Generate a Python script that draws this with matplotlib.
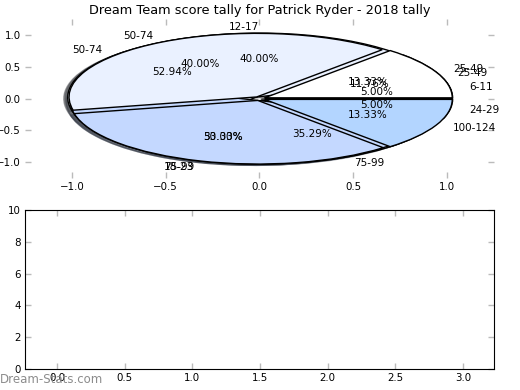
import matplotlib
matplotlib.use("Agg")
import matplotlib.pyplot as plt

TITLE = "Dream Team score tally for Patrick Ryder - 2018 tally"

# three tallies drawn onto the same axes (last one ends up on top)
LABELS_A = ["25-49", "50-74", "75-99"]
COUNTS_A = [2, 9, 6]

LABELS_B = ["6-11", "12-17", "18-23", "24-29"]
COUNTS_B = [1, 8, 10, 1]

LABELS_C = ["25-49", "50-74", "75-99", "100-124"]
COUNTS_C = [2, 6, 5, 2]

PIE_COLORS = ["#ffffff", "#eaf1ff", "#c4d8ff", "#b3d5ff"]
TICK_GRAY = "#bbbbbb"


def style_ticks(ax):
    ax.tick_params(direction="in", color=TICK_GRAY, length=4, width=1,
                   top=True, right=True, labelsize=7.4, pad=3)


fig, (ax_pie, ax_bar) = plt.subplots(2, 1, figsize=(5.2, 3.9), dpi=100)
fig.subplots_adjust(left=0.048, right=0.95, bottom=0.054, top=0.951, hspace=0.2)

for labels, counts in [(LABELS_A, COUNTS_A), (LABELS_B, COUNTS_B), (LABELS_C, COUNTS_C)]:
    ax_pie.pie(counts, labels=labels, colors=PIE_COLORS[:len(counts)],
               explode=[0.03] * len(counts), autopct="%1.2f%%",
               shadow={"ox": -0.015, "oy": -0.015},
               frame=True, wedgeprops={"edgecolor": "black", "linewidth": 1},
               textprops={"fontsize": 7.5})

ax_pie.set_aspect("auto")
ax_pie.set_xlim(-1.25, 1.25)
ax_pie.set_ylim(-1.25, 1.25)
ax_pie.set_xticks([-1.0, -0.5, 0.0, 0.5, 1.0])
ax_pie.set_yticks([-1.0, -0.5, 0.0, 0.5, 1.0])
ax_pie.set_frame_on(False)
style_ticks(ax_pie)
ax_pie.set_title(TITLE, fontsize=9.3, pad=4)

ax_bar.set_xlim(-0.236, 3.23)
ax_bar.set_ylim(0, 10)
ax_bar.set_xticks([0.0, 0.5, 1.0, 1.5, 2.0, 2.5, 3.0])
ax_bar.set_yticks([0, 2, 4, 6, 8, 10])
style_ticks(ax_bar)

fig.text(0.0, 0.01, "Dream-Stats.com", fontsize=8.5, color="#8c8c8c",
         ha="left", va="bottom")

fig.savefig("out.png", dpi=100)
